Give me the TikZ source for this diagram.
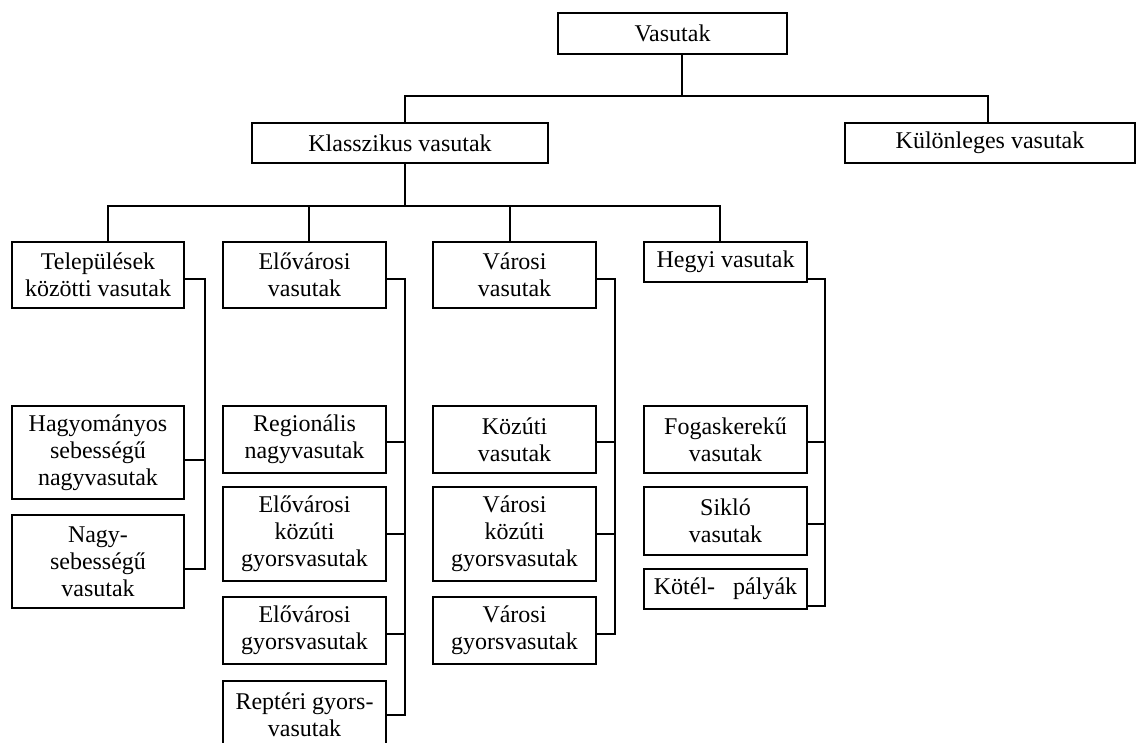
\documentclass[tikz,border=0pt]{standalone}
\usepackage{fontspec}
\setmainfont{Liberation Serif}
\begin{document}
\begin{tikzpicture}[x=1pt,y=-1pt,
  bx/.style={draw, line width=1.5pt, inner sep=0pt, align=center,
    font=\fontsize{24}{27}\selectfont},
  ln/.style={line width=1.5pt}]
\useasboundingbox[fill=white] (0,0) rectangle (1139,743);
% level 0/1
\node[bx, minimum width=229, minimum height=41] (V) at (672.5,33.5) {Vasutak};
\node[bx, minimum width=296, minimum height=40] (K) at (400,143) {Klasszikus vasutak};
\node[bx, minimum width=290, minimum height=40] (Kul) at (990,143) {Különleges vasutak};
% level 2
\node[bx, minimum width=172, minimum height=66] (T) at (98,275) {Települések\\közötti vasutak};
\node[bx, minimum width=163, minimum height=66] (E) at (304.5,275) {Elővárosi\\vasutak};
\node[bx, minimum width=163, minimum height=66] (Va) at (514.5,275) {Városi\\vasutak};
\node[bx, minimum width=163, minimum height=40] (H) at (725.5,262) {\strut Hegyi vasutak};
% level 3
\node[bx, minimum width=172, minimum height=93] (Hagy) at (98,452.5) {Hagyományos\\sebességű\\nagyvasutak};
\node[bx, minimum width=172, minimum height=93] (Nagy) at (98,561.5) {Nagy-\\sebességű\\vasutak};
\node[bx, minimum width=163, minimum height=67] (Reg) at (304.5,439.5) {Regionális\\nagyvasutak};
\node[bx, minimum width=163, minimum height=94] (EKG) at (304.5,534) {Elővárosi\\közúti\\gyorsvasutak};
\node[bx, minimum width=163, minimum height=67] (EG) at (304.5,630.5) {Elővárosi\\gyorsvasutak};
\node[bx, minimum width=163, minimum height=68] (Rep) at (304.5,715) {Reptéri gyors-\\vasutak};
\node[bx, minimum width=163, minimum height=67] (Koz) at (514.5,439.5) {Közúti\\vasutak};
\node[bx, minimum width=163, minimum height=94] (VKG) at (514.5,534) {Városi\\közúti\\gyorsvasutak};
\node[bx, minimum width=163, minimum height=67] (VG) at (514.5,630.5) {Városi\\gyorsvasutak};
\node[bx, minimum width=163, minimum height=67] (Fog) at (725.5,439.5) {Fogaskerekű\\vasutak};
\node[bx, minimum width=163, minimum height=68] (Sik) at (725.5,521) {Sikló\\vasutak};
\node[bx, minimum width=163, minimum height=40] (Kot) at (725.5,589) {\strut Kötél-\ \ \ pályák};
% connectors level 0-1
\draw[ln] (V.south -| 682,0) -- (682,96);
\draw[ln] (K.north -| 405,0) |- (988,96) -- (Kul.north -| 988,0);
% level 1-2
\draw[ln] (K.south -| 405,0) -- (405,206);
\draw[ln] (T.north -| 108,0) |- (720,206) -- (H.north -| 720,0);
\draw[ln] (E.north -| 309,0) -- (309,206);
\draw[ln] (Va.north -| 510,0) -- (510,206);
% group T
\draw[ln] (T.east |- 0,279) -| (205,569) -- (Nagy.east |- 0,569);
\draw[ln] (Hagy.east |- 0,460) -- (205,460);
% group E
\draw[ln] (E.east |- 0,279) -| (405,715) -- (Rep.east |- 0,715);
\draw[ln] (Reg.east |- 0,442) -- (405,442);
\draw[ln] (EKG.east |- 0,534) -- (405,534);
\draw[ln] (EG.east |- 0,634) -- (405,634);
% group Va
\draw[ln] (Va.east |- 0,279) -| (615,634) -- (VG.east |- 0,634);
\draw[ln] (Koz.east |- 0,442) -- (615,442);
\draw[ln] (VKG.east |- 0,534) -- (615,534);
% group H
\draw[ln] (H.east |- 0,279) -| (825,606) -- (Kot.east |- 0,606);
\draw[ln] (Fog.east |- 0,442) -- (825,442);
\draw[ln] (Sik.east |- 0,524) -- (825,524);
\end{tikzpicture}
\end{document}
